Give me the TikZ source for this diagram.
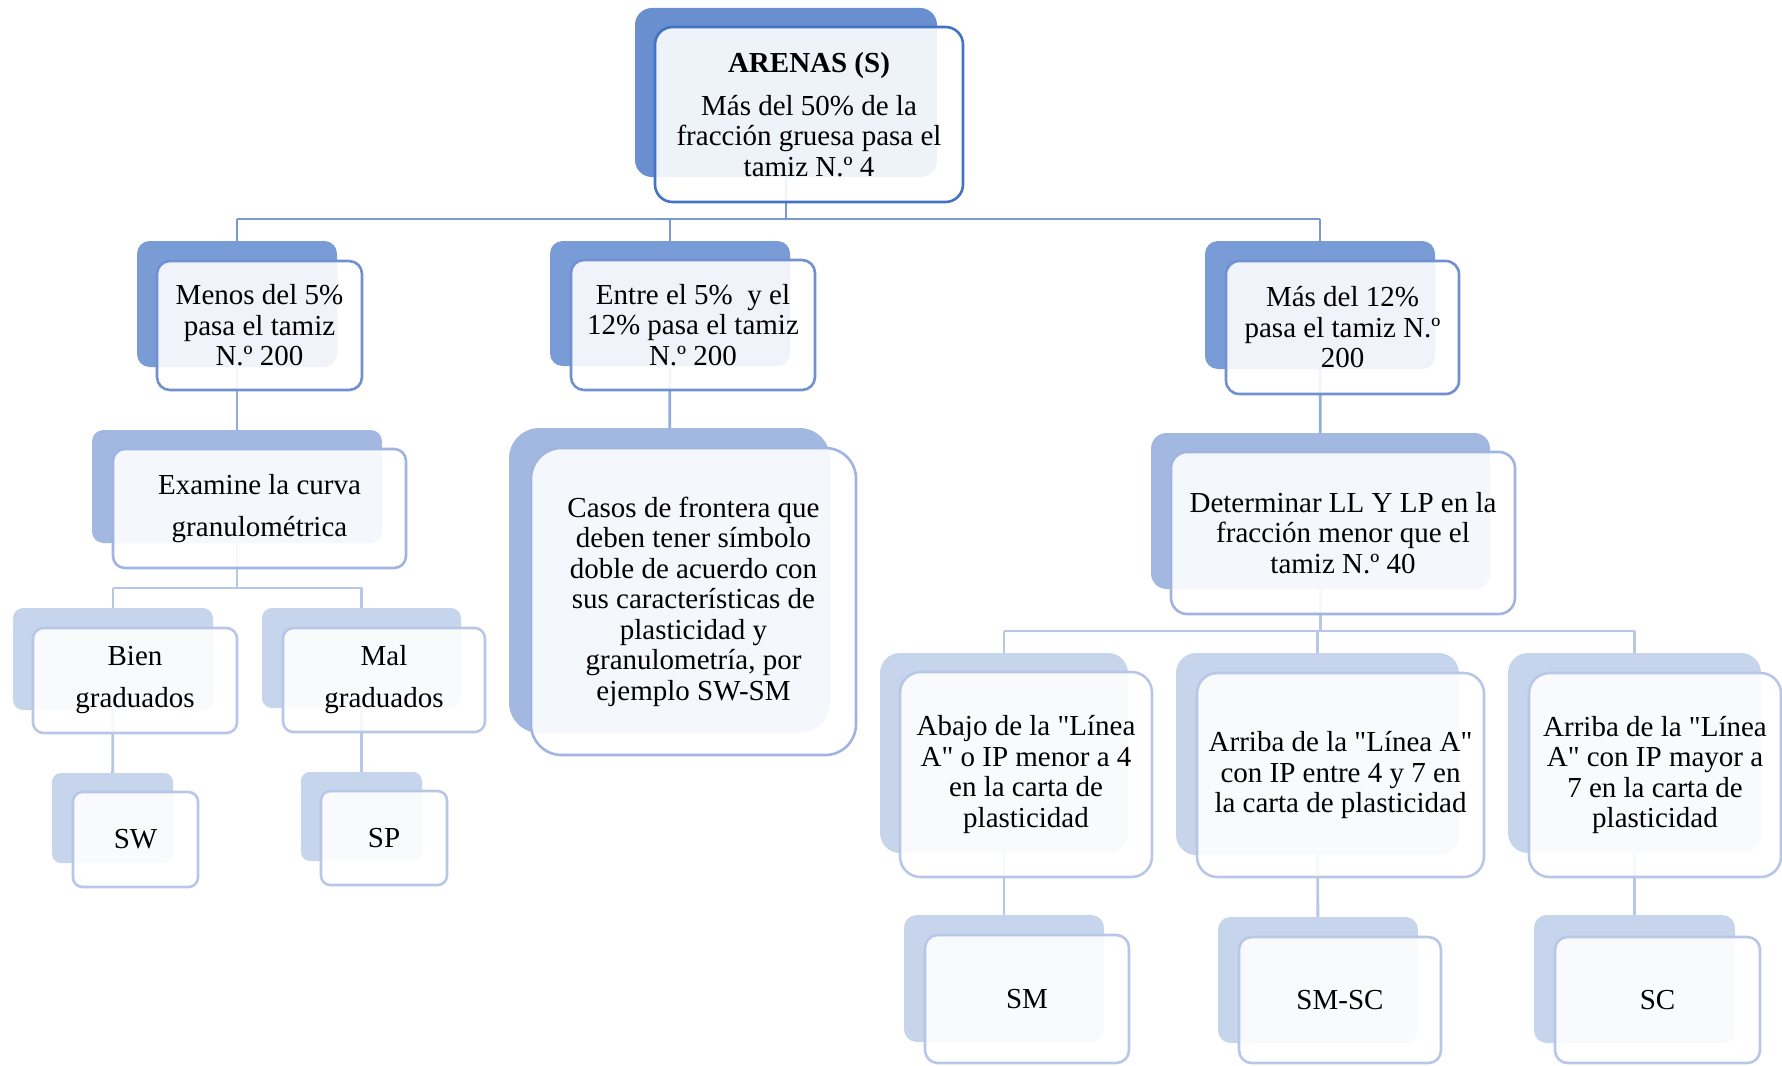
\documentclass[tikz,border=0pt]{standalone}
\usepackage{fontspec}
\setmainfont{Liberation Serif}[Ligatures=TeXReset]
\definecolor{bkA}{HTML}{6A8FCF}
\definecolor{bkB}{HTML}{7A9CD6}
\definecolor{bkC}{HTML}{A3B8E1}
\definecolor{bkD}{HTML}{C6D4EC}
\definecolor{brA}{HTML}{4472C4}
\definecolor{brB}{HTML}{7090D2}
\definecolor{brC}{HTML}{A0B4E0}
\definecolor{brD}{HTML}{B8C7E8}
\definecolor{lnA}{HTML}{7C98D4}
\definecolor{lnB}{HTML}{94ACDD}
\definecolor{lnC}{HTML}{B8C7E8}
\tikzset{
  backbox/.style={fill=#1, inner sep=0pt, draw=none},
  frontbox/.style={draw=#1, line width=2.6pt, fill=white, fill opacity=0.89, text opacity=1,
    inner sep=0pt, align=center, font=\fontsize{29}{30.5}\selectfont},
  widels/.style={font=\fontsize{29}{42}\selectfont},
  conn/.style={line width=2.8pt, draw=#1}
}
\newcommand\bkbox[6]{%
  \pgfmathsetmacro\rr{0.1*min(#5-#3,#6-#4)}%
  \node[#2, minimum width={#5-#3}, minimum height={#6-#4}, rounded corners=\rr pt] (#1) at ({(#3+#5)/2},{(#4+#6)/2}) {};}
\newcommand\frbox[7]{%
  \pgfmathsetmacro\rr{0.1*min(#5-#3,#6-#4)}%
  \node[#2, minimum width={#5-#3}, minimum height={#6-#4}, rounded corners=\rr pt] (#1) at ({(#3+#5)/2},{(#4+#6)/2}) {#7};}
\begin{document}
\begin{tikzpicture}[x=1pt,y=-1pt]
\useasboundingbox (0,0) rectangle (1782,1065);
% connector coordinates
\coordinate (bus1) at (0,219);
\coordinate (bus2) at (0,588);
\coordinate (bus3) at (0,631);
\path
  (786,92) coordinate (topC)
  (237,304) coordinate (aC) (670,303.5) coordinate (bC) (1320,305) coordinate (cC)
  (237,486.5) coordinate (exC) (669.5,580.5) coordinate (caC) (1320.5,511) coordinate (deC)
  (113,659) coordinate (biC) (361.5,658) coordinate (maC)
  (112.5,818) coordinate (swC) (361.5,816.5) coordinate (spC)
  (1004,753) coordinate (abC) (1317.5,754) coordinate (arC) (1634.5,753) coordinate (amC)
  (1004,978.5) coordinate (smC) (1318,980) coordinate (smscC) (1634.5,979) coordinate (scC);
% connectors
\draw[conn=lnA] (topC) -- (topC |- bus1);
\draw[conn=lnA] (aC |- bus1) -- (cC |- bus1);
\draw[conn=lnA] (aC |- bus1) -- (aC);
\draw[conn=lnA] (bC |- bus1) -- (bC);
\draw[conn=lnA] (cC |- bus1) -- (cC);
\draw[conn=lnB] (aC) -- (exC);
\draw[conn=lnB] (bC) -- (caC);
\draw[conn=lnB] (cC) -- (deC);
\draw[conn=lnC] (exC) -- (exC |- bus2);
\draw[conn=lnC] (biC |- bus2) -- (maC |- bus2);
\draw[conn=lnC] (biC |- bus2) -- (biC);
\draw[conn=lnC] (maC |- bus2) -- (maC);
\draw[conn=lnC] (deC) -- (deC |- bus3);
\draw[conn=lnC] (abC |- bus3) -- (amC |- bus3);
\draw[conn=lnC] (abC |- bus3) -- (abC);
\draw[conn=lnC] (arC |- bus3) -- (arC);
\draw[conn=lnC] (amC |- bus3) -- (amC);
\draw[conn=lnC] (biC) -- (swC);
\draw[conn=lnC] (maC) -- (spC);
\draw[conn=lnC] (abC) -- (smC);
\draw[conn=lnC] (arC) -- (smscC);
\draw[conn=lnC] (amC) -- (scC);
% back boxes
\bkbox{topB}{backbox=bkA}{635}{8}{937}{177}
\bkbox{aB}{backbox=bkB}{137}{241}{337}{367}
\bkbox{bB}{backbox=bkB}{550}{241}{790}{366}
\bkbox{cB}{backbox=bkB}{1205}{241}{1435}{369}
\bkbox{exB}{backbox=bkC}{92}{430}{382}{543}
\bkbox{caB}{backbox=bkC}{509}{428}{830}{733}
\bkbox{deB}{backbox=bkC}{1151}{433}{1490}{589}
\bkbox{biB}{backbox=bkD}{13}{608}{213}{710}
\bkbox{maB}{backbox=bkD}{262}{608}{461}{708}
\bkbox{swB}{backbox=bkD}{52}{773}{173}{863}
\bkbox{spB}{backbox=bkD}{301}{772}{422}{861}
\bkbox{abB}{backbox=bkD}{880}{653}{1128}{853}
\bkbox{arB}{backbox=bkD}{1176}{653}{1459}{855}
\bkbox{amB}{backbox=bkD}{1508}{653}{1761}{853}
\bkbox{smB}{backbox=bkD}{904}{915}{1104}{1042}
\bkbox{smscB}{backbox=bkD}{1218}{917}{1418}{1043}
\bkbox{scB}{backbox=bkD}{1534}{915}{1735}{1043}
% front boxes
\frbox{top}{frontbox=brA}{655}{27}{963}{202}{\textbf{ARENAS (S)}\\[12pt]Más del 50\% de la\\fracción gruesa pasa el\\tamiz N.º 4}
\frbox{a}{frontbox=brB}{157}{261}{362}{390}{Menos del 5\%\\pasa el tamiz\\N.º 200}
\frbox{b}{frontbox=brB}{571}{260}{815}{390}{Entre el 5\%\ \ y el\\12\% pasa el tamiz\\N.º 200}
\frbox{c}{frontbox=brB}{1226}{261}{1459}{394}{Más del 12\%\\pasa el tamiz N.º\\200}
\frbox{ex}{frontbox=brC,widels}{113}{449}{406}{568}{Examine la curva\\granulométrica}
\frbox{ca}{frontbox=brC}{531}{448}{856}{755}{Casos de frontera que\\deben tener símbolo\\doble de acuerdo con\\sus características de\\plasticidad y\\granulometría, por\\ejemplo SW-SM}
\frbox{de}{frontbox=brC}{1171}{452}{1515}{614}{Determinar LL Y LP en la\\fracción menor que el\\tamiz N.º 40}
\frbox{bi}{frontbox=brD,widels}{33}{628}{237}{733}{Bien\\graduados}
\frbox{ma}{frontbox=brD,widels}{283}{628}{485}{732}{Mal\\graduados}
\frbox{sw}{frontbox=brD}{73}{792}{198}{887}{SW}
\frbox{sp}{frontbox=brD}{321}{791}{447}{885}{SP}
\frbox{ab}{frontbox=brD}{900}{672}{1152}{877}{Abajo de la "Línea\\A" o IP menor a 4\\en la carta de\\plasticidad}
\frbox{ar}{frontbox=brD}{1197}{673}{1484}{877}{Arriba de la "Línea A"\\con IP entre 4 y 7 en\\la carta de plasticidad}
\frbox{am}{frontbox=brD}{1529}{673}{1781}{877}{Arriba de la "Línea\\A" con IP mayor a\\7 en la carta de\\plasticidad}
\frbox{sm}{frontbox=brD}{925}{935}{1129}{1063}{SM}
\frbox{smsc}{frontbox=brD}{1239}{937}{1441}{1063}{SM-SC}
\frbox{sc}{frontbox=brD}{1555}{937}{1760}{1063}{SC}
\end{tikzpicture}
\end{document}
